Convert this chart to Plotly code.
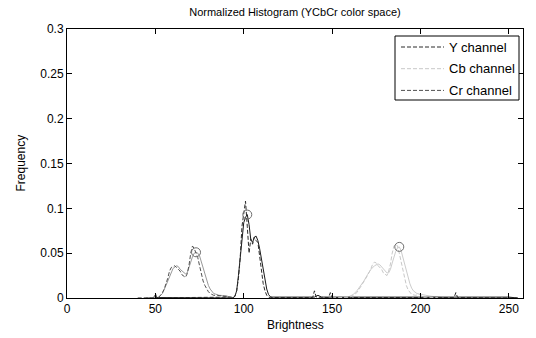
import plotly.graph_objects as go

# ---- data ----
# Y channel (darkest pair, peak near 101)
y_hist_x = [40, 94, 95, 96, 97, 98, 99, 100, 101, 102, 103, 104, 105, 106, 107, 108, 109, 110, 111, 112, 113, 114, 115, 139, 140, 141, 148, 149, 150, 219, 220, 221, 255]
y_hist_v = [0, 0.001, 0.002, 0.008, 0.022, 0.045, 0.08, 0.095, 0.108, 0.08, 0.05, 0.066, 0.06, 0.068, 0.064, 0.062, 0.045, 0.03, 0.016, 0.008, 0.003, 0.001, 0.0005, 0.0005, 0.008, 0.001, 0.0005, 0.006, 0.0005, 0.0005, 0.006, 0.0005, 0]
y_fit_x = [50, 94, 95, 96, 97, 98, 99, 100, 101, 102, 103, 104, 105, 106, 107, 108, 109, 110, 111, 112, 113, 114, 115, 116, 140, 142, 144, 250, 255]
y_fit_v = [0.0005, 0, 0.002, 0.008, 0.025, 0.047, 0.07, 0.084, 0.09, 0.093, 0.082, 0.065, 0.062, 0.068, 0.069, 0.064, 0.055, 0.043, 0.031, 0.02, 0.01, 0.004, 0.0015, 0.001, 0.001, 0.003, 0.001, 0.001, 0]

# Cb channel (lightest pair, peak near 188)
cb_hist_x = [150, 160, 162, 164, 166, 168, 170, 172, 173, 174, 175, 176, 177, 178, 179, 180, 181, 182, 183, 184, 185, 186, 187, 188, 189, 190, 191, 192, 193, 194, 195, 197, 200, 201, 205, 210]
cb_hist_v = [0, 0.001, 0.003, 0.006, 0.012, 0.018, 0.025, 0.033, 0.038, 0.04, 0.039, 0.036, 0.034, 0.032, 0.028, 0.026, 0.025, 0.03, 0.038, 0.05, 0.058, 0.06, 0.058, 0.05, 0.04, 0.03, 0.021, 0.014, 0.009, 0.006, 0.004, 0.003, 0.004, 0.001, 0.001, 0]
cb_fit_x = [150, 158, 160, 162, 164, 166, 168, 170, 172, 174, 176, 177, 178, 180, 181, 182, 183, 184, 185, 186, 187, 188, 189, 190, 191, 192, 193, 194, 195, 196, 198, 200, 203, 206, 210, 215]
cb_fit_v = [0, 0, 0.002, 0.004, 0.008, 0.013, 0.019, 0.026, 0.032, 0.036, 0.038, 0.037, 0.035, 0.03, 0.028, 0.028, 0.032, 0.039, 0.046, 0.052, 0.056, 0.057, 0.053, 0.045, 0.037, 0.029, 0.022, 0.016, 0.011, 0.008, 0.005, 0.004, 0.003, 0.002, 0.001, 0]

# Cr channel (mid-grey pair, peak near 73)
cr_hist_x = [45, 49, 50, 51, 52, 53, 54, 55, 56, 57, 58, 59, 60, 61, 62, 63, 64, 65, 66, 67, 68, 69, 70, 71, 72, 73, 74, 75, 76, 77, 78, 79, 80, 81, 82, 83, 85, 88, 90, 92, 95]
cr_hist_v = [0, 0, 0.005, 0, 0.001, 0.003, 0.006, 0.01, 0.015, 0.022, 0.03, 0.034, 0.035, 0.036, 0.034, 0.032, 0.03, 0.026, 0.024, 0.023, 0.027, 0.036, 0.05, 0.058, 0.055, 0.05, 0.045, 0.036, 0.027, 0.019, 0.014, 0.01, 0.007, 0.005, 0.004, 0.003, 0.003, 0.002, 0.002, 0.001, 0]
cr_fit_x = [45, 50, 52, 54, 56, 58, 60, 62, 63, 64, 66, 67, 68, 69, 70, 71, 72, 73, 74, 75, 76, 77, 78, 79, 80, 81, 82, 83, 84, 86, 88, 90, 92, 94]
cr_fit_v = [0, 0, 0.001, 0.005, 0.014, 0.024, 0.033, 0.036, 0.035, 0.032, 0.028, 0.027, 0.028, 0.033, 0.04, 0.046, 0.05, 0.051, 0.05, 0.047, 0.04, 0.033, 0.027, 0.02, 0.014, 0.01, 0.007, 0.005, 0.0044, 0.003, 0.0028, 0.0026, 0.001, 0]

# peak markers
peak_x = [73, 102, 188]
peak_v = [0.051, 0.093, 0.057]

x_ticks = [0, 50, 100, 150, 200, 250]
y_ticks = [0, 0.05, 0.1, 0.15, 0.2, 0.25, 0.3]
y_tick_labels = ["0", "0.05", "0.1", "0.15", "0.2", "0.25", "0.3"]

legend_names = ["Y channel", "Cb channel", "Cr channel"]
legend_colors = ["#2a2a2a", "#c8c8c8", "#505050"]

FONT = "Liberation Sans, Arial, sans-serif"
DASH = "4px,2px"
W, H = 536, 338
L, R, T, B = 67, 523, 29, 298

def px_x(p):
    return (p - L) / (R - L)

def px_y(p):
    return (B - p) / (B - T)

fig = go.Figure()
fig.add_trace(go.Scatter(x=cr_fit_x, y=cr_fit_v, mode="lines", line=dict(color="#999999", width=1), showlegend=False, hoverinfo="skip"))
fig.add_trace(go.Scatter(x=cb_fit_x, y=cb_fit_v, mode="lines", line=dict(color="#cccccc", width=1), showlegend=False, hoverinfo="skip"))
fig.add_trace(go.Scatter(x=y_fit_x, y=y_fit_v, mode="lines", line=dict(color="#1a1a1a", width=1), showlegend=False, hoverinfo="skip"))
fig.add_trace(go.Scatter(x=y_hist_x, y=y_hist_v, mode="lines", name=legend_names[0], showlegend=False, line=dict(color=legend_colors[0], width=1, dash=DASH)))
fig.add_trace(go.Scatter(x=cb_hist_x, y=cb_hist_v, mode="lines", name=legend_names[1], showlegend=False, line=dict(color=legend_colors[1], width=1, dash=DASH)))
fig.add_trace(go.Scatter(x=cr_hist_x, y=cr_hist_v, mode="lines", name=legend_names[2], showlegend=False, line=dict(color=legend_colors[2], width=1, dash=DASH)))
fig.add_trace(go.Scatter(x=peak_x, y=peak_v, mode="markers", showlegend=False, hoverinfo="skip",
                         marker=dict(symbol="circle-open", size=9, color="#6e6e6e", line=dict(width=1, color="#6e6e6e"))))

# hand-built legend box (MATLAB style)
shapes = [dict(type="rect", xref="x domain", yref="y domain", x0=px_x(395), x1=px_x(519), y0=px_y(100), y1=px_y(36),
               line=dict(color="black", width=1), fillcolor="white", layer="above")]
annotations = []
for i, (nm, col) in enumerate(zip(legend_names, legend_colors)):
    yy = px_y(47 + i * 21.7)
    shapes.append(dict(type="line", xref="x domain", yref="y domain", x0=px_x(401), x1=px_x(444), y0=yy, y1=yy,
                       line=dict(color=col, width=1, dash=DASH), layer="above"))
    annotations.append(dict(text=nm, xref="x domain", yref="y domain", x=px_x(447), y=yy, xanchor="left",
                            yanchor="middle", showarrow=False, font=dict(size=13, family=FONT, color="black")))

annotations.append(dict(text="Frequency", xref="paper", yref="paper", x=(20 - L) / (R - L), y=0.5, textangle=-90,
                        xanchor="center", yanchor="middle", showarrow=False, font=dict(size=12, family=FONT)))
annotations.append(dict(text="Brightness", xref="paper", yref="paper", x=0.5, y=(B - 325) / (B - T),
                        xanchor="center", yanchor="middle", showarrow=False, font=dict(size=12, family=FONT)))

fig.update_layout(
    width=W, height=H,
    margin=dict(l=L, r=W - R, t=T, b=H - B),
    paper_bgcolor="white", plot_bgcolor="white",
    font=dict(family=FONT, size=12, color="black"),
    title=dict(text="Normalized Histogram (YCbCr color space)", x=(L + R) / 2 / W, xanchor="center",
               y=1 - 12 / H, yanchor="middle", font=dict(size=11, family=FONT)),
    showlegend=False,
    shapes=shapes,
    annotations=annotations,
)
fig.update_xaxes(range=[0, 258], tickvals=x_ticks, ticks="inside", ticklen=5, tickcolor="black", automargin=False,
                 showline=True, linecolor="black", linewidth=1, mirror="ticks", showgrid=False, zeroline=False,
                 tickfont=dict(size=12))
fig.update_yaxes(range=[0, 0.3], tickvals=y_ticks, ticktext=y_tick_labels, ticks="inside", ticklen=5, tickcolor="black",
                 automargin=False,
                 showline=True, linecolor="black", linewidth=1, mirror="ticks", showgrid=False, zeroline=False,
                 tickfont=dict(size=12))

fig.write_html("out.html", config={"displayModeBar": False},
               post_script="document.body.style.margin='0px';")
